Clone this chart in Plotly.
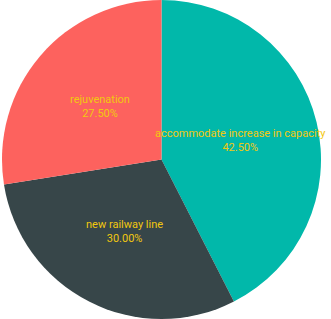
import math
import plotly.graph_objects as go

labels = ["accommodate increase in capacity", "new railway line", "rejuvenation"]
values = [42.5, 30.0, 27.5]
colors = ["#01B8AA", "#374649", "#FD625E"]

W, H = 331, 319
dom_x = [0, 323 / W]

fig = go.Figure(go.Pie(
    labels=labels,
    values=values,
    sort=False,
    direction="clockwise",
    rotation=0,
    marker=dict(colors=colors, line=dict(width=0)),
    textinfo="none",
    hoverinfo="label+percent",
    domain=dict(x=dom_x, y=[0, 1]),
))

# data labels placed along each slice's mid-angle (derived from values)
total = sum(values)
cx_px = (dom_x[0] + dom_x[1]) / 2 * W
cy_px = H / 2
R = min((dom_x[1] - dom_x[0]) * W, H) / 2
cum = 0
annotations = []
for lab, v in zip(labels, values):
    mid = (cum + v / 2) / total * 2 * math.pi
    cum += v
    r = 0.51 * R
    px = cx_px + r * math.sin(mid)
    py = cy_px + r * math.cos(mid)
    annotations.append(dict(
        x=px / W, y=py / H, xref="paper", yref="paper",
        text=f"{lab}<br>{v / total:.2%}",
        showarrow=False,
        font=dict(family="Roboto", size=11, color="#F2C80F"),
        xanchor="center", yanchor="middle",
    ))

fig.update_layout(
    width=W, height=H,
    margin=dict(l=0, r=0, t=0, b=0),
    showlegend=False,
    paper_bgcolor="white",
    annotations=annotations,
)
fig.write_html("out.html")
